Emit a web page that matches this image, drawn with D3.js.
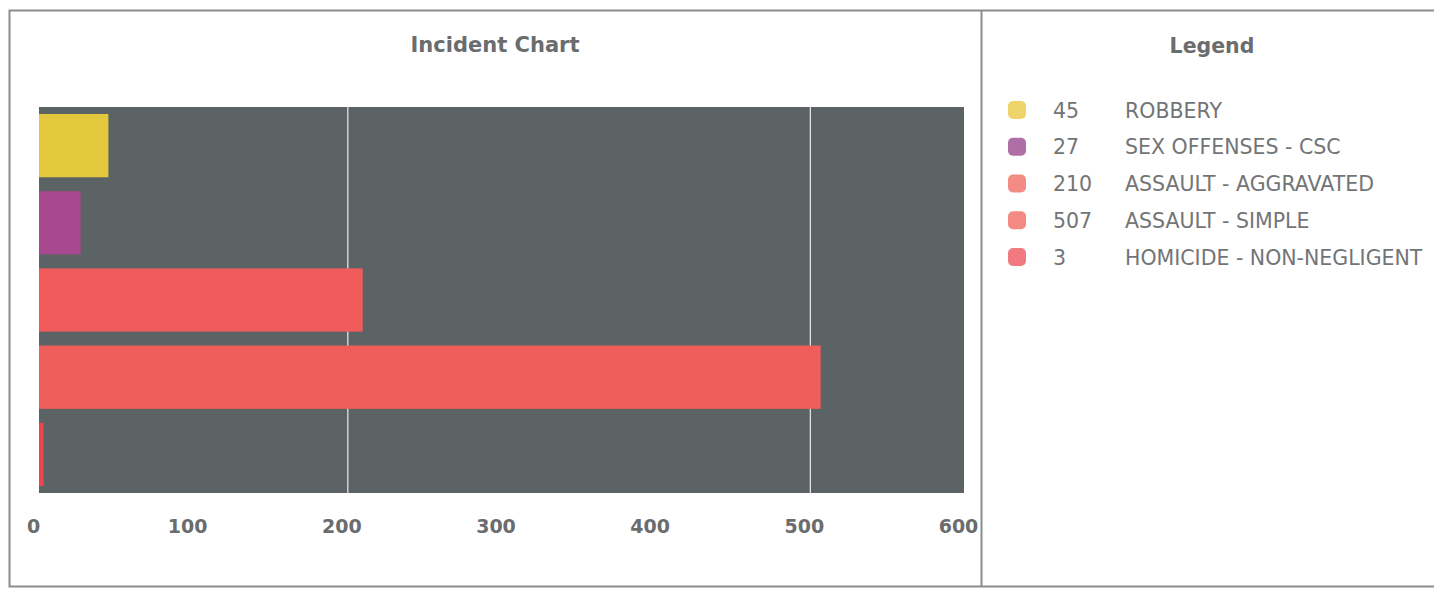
<!DOCTYPE html>
<html>
<head>
<meta charset="utf-8">
<script src="https://cdn.jsdelivr.net/npm/d3@7"></script>
<style>
  html, body { margin: 0; padding: 0; background: #ffffff; }
  svg { display: block; }
</style>
</head>
<body>
<svg id="chart" width="1434" height="589"></svg>
<script>
// Incident counts by offence type
const categories = ["ROBBERY", "SEX OFFENSES - CSC", "ASSAULT - AGGRAVATED", "ASSAULT - SIMPLE", "HOMICIDE - NON-NEGLIGENT"];
const counts = [45, 27, 210, 507, 3];
const barColors = ["#e3c73c", "#a8488e", "#f05c5c", "#f05e5c", "#e8474e"];
const swatchColors = ["#eed46a", "#ad6fa6", "#f48c86", "#f48a84", "#f07a80"];
const tickValues = [0, 100, 200, 300, 400, 500, 600];
const gridValues = [200, 500];

const svg = d3.select("#chart");
const FONT = "DejaVu Sans, Verdana, sans-serif";

// Outer frame and divider between chart and legend
svg.append("rect")
  .attr("x", 9.5).attr("y", 10.5).attr("width", 1440).attr("height", 576)
  .attr("fill", "none").attr("stroke", "#8a8c8e").attr("stroke-width", 2);
svg.append("line")
  .attr("x1", 981.5).attr("x2", 981.5).attr("y1", 10).attr("y2", 587)
  .attr("stroke", "#8a8c8e").attr("stroke-width", 2);

// Plot area
const plot = { left: 39, right: 964, top: 107, bottom: 493 };

const x = d3.scaleLinear().domain([0, 600]).range([plot.left, plot.right]);
const y = d3.scaleBand().domain(categories).range([plot.top, plot.bottom])
  .paddingInner(0.18).paddingOuter(0.09);

svg.append("text")
  .attr("x", 495).attr("y", 52)
  .attr("text-anchor", "middle")
  .attr("font-family", FONT)
  .attr("font-weight", "bold").attr("font-size", 21)
  .attr("fill", "#6a6c6e")
  .text("Incident Chart");

svg.append("rect")
  .attr("x", plot.left).attr("y", plot.top)
  .attr("width", plot.right - plot.left).attr("height", plot.bottom - plot.top)
  .attr("fill", "#5c6365");

// Vertical gridlines
svg.append("g").selectAll("line")
  .data(gridValues).join("line")
  .attr("x1", d => x(d) + 0.5).attr("x2", d => x(d) + 0.5)
  .attr("y1", plot.top).attr("y2", plot.bottom)
  .attr("stroke", "#e8ecec").attr("stroke-width", 1.2);

// Bars
svg.append("g").selectAll("rect")
  .data(categories).join("rect")
  .attr("x", x(0))
  .attr("y", d => y(d))
  .attr("width", (d, i) => x(counts[i]) - x(0))
  .attr("height", y.bandwidth())
  .attr("fill", (d, i) => barColors[i]);

// X axis labels
const axis = d3.axisBottom(x).tickValues(tickValues).tickSize(0).tickPadding(0);
const gAxis = svg.append("g")
  .attr("transform", `translate(-6,${plot.bottom + 33})`)
  .call(axis);
gAxis.select(".domain").remove();
gAxis.selectAll("text")
  .attr("dy", "0.35em")
  .attr("font-family", FONT)
  .attr("font-weight", "bold").attr("font-size", 19)
  .attr("fill", "#6a6c6e");

// Legend
const legendX = 1008;
const legend = svg.append("g");
legend.append("text")
  .attr("x", 1212).attr("y", 53)
  .attr("text-anchor", "middle")
  .attr("font-family", FONT)
  .attr("font-weight", "bold").attr("font-size", 20.5)
  .attr("fill", "#6a6c6e")
  .text("Legend");

const rowY = d3.scalePoint().domain(categories).range([110, 257]);
const rows = legend.selectAll("g.row").data(categories).join("g")
  .attr("class", "row")
  .attr("transform", d => `translate(0,${rowY(d)})`);
rows.append("rect")
  .attr("x", legendX).attr("y", -9).attr("width", 18).attr("height", 18)
  .attr("rx", 5)
  .attr("fill", (d, i) => swatchColors[i]);
rows.append("text")
  .attr("x", 1053).attr("y", 7.5)
  .attr("font-family", FONT)
  .attr("font-size", 20.5).attr("fill", "#727476")
  .text((d, i) => counts[i]);
rows.append("text")
  .attr("x", 1125).attr("y", 7.5)
  .attr("font-family", FONT)
  .attr("font-size", 20.5).attr("fill", "#727476")
  .text(d => d);
</script>
</body>
</html>
